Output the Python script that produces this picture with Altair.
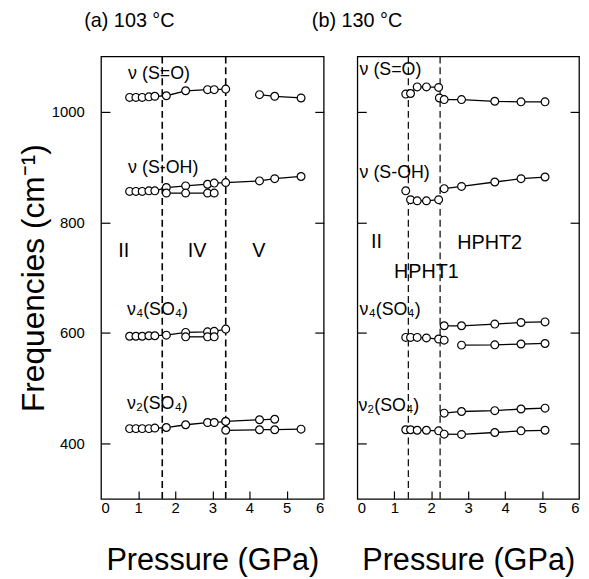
import altair as alt
import pandas as pd

FONT = "Liberation Sans"

# ---------------- Panel (a): 103 °C ----------------
a_p_low = [0.77, 0.94, 1.11, 1.29, 1.45, 1.76, 2.28, 2.87, 3.05, 3.36]
a_p_v = [4.27, 4.68, 5.39]
a_p_iv = [1.76, 2.28, 2.87, 3.05]

a_so_low = [1026, 1026, 1026, 1027, 1028, 1029, 1038, 1040, 1040, 1041]
a_so_v = [1031, 1028, 1025]

a_soh_main_p = [0.77, 0.94, 1.11, 1.29, 1.45, 1.76, 2.28, 2.87, 3.05, 3.36, 4.27, 4.68, 5.39]
a_soh_main = [856, 856, 856, 857, 857, 863, 866, 869, 871, 872, 875, 879, 883]
a_soh_lower = [853, 853, 853, 853]

a_v4_main = [594, 594, 594, 595, 595, 596, 601, 602, 603, 607]
a_v4_lower_p = [2.28, 2.87, 3.05]
a_v4_lower = [593, 593, 593]

a_v2_main = [427, 427, 427, 427, 428, 429, 434, 438, 438, 440]
a_v2_up_p = [3.36, 4.27, 4.68]
a_v2_up = [440, 443, 444]
a_v2_lo_p = [3.36, 4.27, 4.68, 5.39]
a_v2_lo = [424, 425, 425, 426]

a_boundaries = [1.65, 3.36]

# ---------------- Panel (b): 130 °C ----------------
b_p_ii_h1 = [1.31, 1.44, 1.62, 1.87, 2.20]
b_p_h1 = [1.44, 1.62, 1.87, 2.20]
b_p_h2 = [2.35, 2.82, 3.72, 4.43, 5.08]

b_so_h1 = [1032, 1033, 1045, 1045, 1044]
b_so_h2_p = [2.22, 2.35, 2.82, 3.72, 4.43, 5.08]
b_so_h2 = [1025, 1022, 1022, 1019, 1018, 1018]

b_soh_ii_p = [1.31]
b_soh_ii = [857]
b_soh_h1 = [841, 839, 839, 841]
b_soh_h2 = [861, 865, 873, 879, 882]

b_v4_h1_p = [1.31, 1.44, 1.62, 1.87, 2.20, 2.35]
b_v4_h1 = [592, 592, 592, 591, 589, 587]
b_v4_h2_up = [613, 613, 616, 619, 620]
b_v4_h2_lo_p = [2.82, 3.72, 4.43, 5.08]
b_v4_h2_lo = [578, 578.5, 580, 581]

b_v2_h1 = [425, 425, 424, 424, 423]
b_v2_h2_up = [455, 458, 459.5, 462.5, 464]
b_v2_h2_lo = [417, 416.5, 420, 423, 424]

b_boundaries = [1.38, 2.24]

X_TICKS = [0, 1, 2, 3, 4, 5, 6]
X_INNER = [1, 2, 3, 4, 5]
Y_TICKS = [400, 600, 800, 1000]

a_modes = ["ν (S=O)", "ν (S-OH)", "ν₄(SO₄)", "ν₂(SO₄)"]
a_mode_x = [0.73, 0.73, 0.70, 0.70]
a_mode_y = [1068, 898, 642, 472]
a_phases = ["II", "IV", "V"]
a_phase_x = [0.61, 2.59, 4.25]
a_phase_y = [748, 748, 748]

b_modes = ["ν (S=O)", "ν (S-OH)", "ν₄(SO₄)", "ν₂(SO₄)"]
b_mode_x = [0.06, 0.06, 0.06, 0.03]
b_mode_y = [1075, 889, 642, 468]
b_phases = ["II", "HPHT1", "HPHT2"]
b_phase_x = [0.52, 1.87, 3.58]
b_phase_y = [764, 710, 762]


def series_frame(items):
    rows = []
    for name, ps, fs in items:
        for p, f in zip(ps, fs):
            rows.append({"series": name, "p": p, "f": f})
    return pd.DataFrame(rows)


a_df = series_frame([
    ("so_low", a_p_low, a_so_low),
    ("so_v", a_p_v, a_so_v),
    ("soh_main", a_soh_main_p, a_soh_main),
    ("soh_lower", a_p_iv, a_soh_lower),
    ("v4_main", a_p_low, a_v4_main),
    ("v4_lower", a_v4_lower_p, a_v4_lower),
    ("v2_main", a_p_low, a_v2_main),
    ("v2_up", a_v2_up_p, a_v2_up),
    ("v2_lo", a_v2_lo_p, a_v2_lo),
])

b_df = series_frame([
    ("so_h1", b_p_ii_h1, b_so_h1),
    ("so_h2", b_so_h2_p, b_so_h2),
    ("soh_ii", b_soh_ii_p, b_soh_ii),
    ("soh_h1", b_p_h1, b_soh_h1),
    ("soh_h2", b_p_h2, b_soh_h2),
    ("v4_h1", b_v4_h1_p, b_v4_h1),
    ("v4_h2_up", b_p_h2, b_v4_h2_up),
    ("v4_h2_lo", b_v4_h2_lo_p, b_v4_h2_lo),
    ("v2_h1", b_p_ii_h1, b_v2_h1),
    ("v2_h2_up", b_p_h2, b_v2_h2_up),
    ("v2_h2_lo", b_p_h2, b_v2_h2_lo),
])

x_scale = alt.Scale(domain=[0, 6], nice=False, zero=False)
y_scale = alt.Scale(domain=[300, 1100], nice=False, zero=False)


def panel(df, bounds, modes, mx, my, phases, px, py, title, title_dx, show_y,
          dash_w, width):
    x_main_axis = alt.Axis(orient="bottom", values=X_TICKS, ticks=False, domain=False,
                           grid=False, labelFont=FONT, labelFontSize=15, labelPadding=2,
                           labelColor="black", labelAngle=0, format="d",
                           title="Pressure (GPa)", titleFont=FONT, titleFontSize=31,
                           titleFontWeight="normal", titleColor="black", titlePadding=30)
    if show_y:
        y_main_axis = alt.Axis(orient="left", values=Y_TICKS, ticks=False, domain=False,
                               grid=False, labelFont=FONT, labelFontSize=15,
                               labelPadding=17, labelColor="black", format="d",
                               title="Frequencies (cm⁻¹)", titleFont=FONT,
                               titleFontSize=32, titleFontWeight="normal",
                               titleColor="black", titlePadding=1)
    else:
        y_main_axis = alt.Axis(orient="left", values=Y_TICKS, ticks=False, domain=False,
                               grid=False, labels=False, title=None)

    tick_bottom = alt.Axis(orient="bottom", offset=-8, values=X_INNER, tickSize=8,
                           tickColor="black", tickWidth=1.2, labels=False,
                           domain=False, grid=False, title=None)
    tick_left = alt.Axis(orient="left", offset=-9, values=Y_TICKS, tickSize=9,
                         tickColor="black", tickWidth=1.2, labels=False,
                         domain=False, grid=False, title=None)
    tick_right = alt.Axis(orient="right", offset=-9, values=Y_TICKS, tickSize=9,
                          tickColor="black", tickWidth=1.2, labels=False,
                          domain=False, grid=False, title=None)

    lines = alt.Chart(df).mark_line(color="black", strokeWidth=1.3).encode(
        x=alt.X("p:Q", scale=x_scale, axis=x_main_axis),
        y=alt.Y("f:Q", scale=y_scale, axis=y_main_axis),
        detail="series:N",
    )
    pts = alt.Chart(df).mark_point(shape="circle", filled=True, fill="white",
                                   stroke="black", strokeWidth=1.2, size=62,
                                   opacity=1).encode(
        x=alt.X("p:Q", scale=x_scale, axis=None),
        y=alt.Y("f:Q", scale=y_scale, axis=None),
    )
    bdf = pd.DataFrame({"p": bounds})
    dashes = alt.Chart(bdf).mark_rule(color="black", strokeWidth=dash_w,
                                      strokeDash=[7, 4]).encode(
        x=alt.X("p:Q", scale=x_scale, axis=tick_bottom),
    )
    mdf = pd.DataFrame({"label": modes, "x": mx, "y": my})
    mtext = alt.Chart(mdf).mark_text(align="left", baseline="middle", font=FONT,
                                     fontSize=18, color="black").encode(
        x=alt.X("x:Q", scale=x_scale, axis=None),
        y=alt.Y("y:Q", scale=y_scale, axis=tick_left),
        text="label:N",
    )
    pdf = pd.DataFrame({"label": phases, "x": px, "y": py})
    ptext = alt.Chart(pdf).mark_text(align="center", baseline="middle", font=FONT,
                                     fontSize=20, color="black").encode(
        x=alt.X("x:Q", scale=x_scale, axis=None),
        y=alt.Y("y:Q", scale=y_scale, axis=tick_right),
        text="label:N",
    )
    return alt.layer(lines, dashes, pts, mtext, ptext).resolve_axis(
        x="independent", y="independent"
    ).properties(
        width=width, height=447,
        title=alt.TitleParams(title, anchor="start", frame="group", dx=title_dx,
                              offset=25, font=FONT, fontSize=20, fontWeight="normal",
                              color="black"),
    )


left = panel(a_df, a_boundaries, a_modes, a_mode_x, a_mode_y, a_phases, a_phase_x,
             a_phase_y, "(a)  103 °C", -17, True, 1.6, 225)
right = panel(b_df, b_boundaries, b_modes, b_mode_x, b_mode_y, b_phases, b_phase_x,
              b_phase_y, "(b) 130 °C", -46, False, 1.2, 224)

chart = alt.hconcat(left, right, spacing=34, bounds="flush").properties(
    padding={"left": 8, "top": -1, "right": 0, "bottom": 0}
).configure(background="white").configure_view(stroke="black", strokeWidth=1.3)

chart.save("out.html", embed_options={"renderer": "svg", "actions": False})
